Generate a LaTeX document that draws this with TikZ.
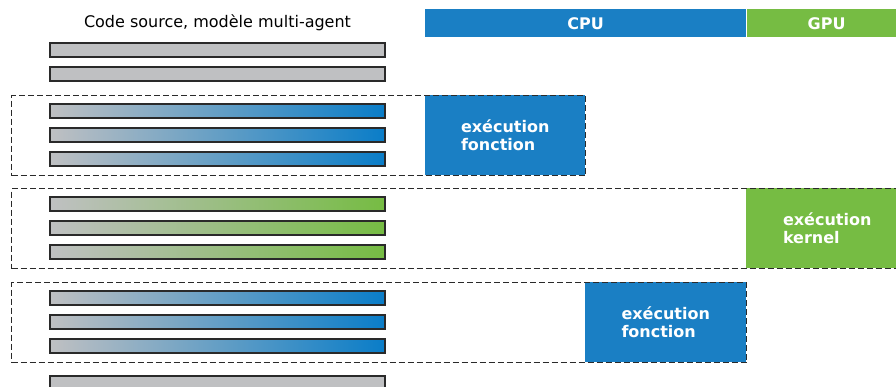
\documentclass[tikz,border=0pt]{standalone}
\usepackage{fontspec}
\setmainfont{DejaVu Sans}
\usetikzlibrary{positioning}
\definecolor{cpublue}{HTML}{1A7FC4}
\definecolor{barblue}{HTML}{0A7DC8}
\definecolor{gpugreen}{HTML}{76BC43}
\definecolor{bargray}{HTML}{BFC0C2}
\definecolor{edgegray}{HTML}{2A2A2A}
\tikzset{
	bar/.style={draw=edgegray, line width=1.3pt, fill=bargray, minimum width=335pt, minimum height=14pt, inner sep=0pt, outer sep=0pt},
	cpubar/.style={bar, left color=bargray, right color=barblue},
	gpubar/.style={bar, left color=bargray, right color=gpugreen},
	phase/.style={draw=edgegray, line width=1.2pt, dash pattern=on 6pt off 3pt, anchor=north west, minimum height=80pt, inner sep=0pt},
	cpubox/.style={fill=cpublue, text=white, font=\bfseries\fontsize{16}{18.5}\selectfont, align=left, anchor=north west, minimum height=80pt, inner sep=0pt},
	gpubox/.style={cpubox, fill=gpugreen},
	header/.style={text=white, font=\bfseries\fontsize{16}{19}\selectfont, minimum height=28pt, inner sep=0pt, anchor=north west}
}
\begin{document}
\begin{tikzpicture}[x=1pt, y=-1pt, node distance=10pt]
	\useasboundingbox (0,0) rectangle (896,387);
	% en-tete
	\node[font=\fontsize{16}{19}\selectfont] (title) at (217.5,23) {Code source, modèle multi-agent};
	\node[header, fill=cpublue, minimum width=321pt] (cpu) at (425,9) {CPU};
	\node[header, fill=gpugreen, minimum width=160pt, right=0pt of cpu] (gpu) {GPU};

	\node[bar] (s1) at (217.5,50) {};
	\node[bar, below=of s1] (s2) {};

	% fonction CPU
	\node[cpubox, minimum width=160pt] (f1) at (425,95) {exécution\\fonction};
	\node[phase, minimum width=574pt] (p1) at (11,95) {};
	\node[cpubar] (c1) at (217.5,111) {};
	\node[cpubar, below=of c1] (c2) {};
	\node[cpubar, below=of c2] (c3) {};

	% kernel GPU
	\node[gpubox, minimum width=162pt] (k1) at (746,188) {exécution\\kernel};
	\node[phase, minimum width=890pt] (p2) at (11,188) {};
	\node[gpubar] (g1) at (217.5,204) {};
	\node[gpubar, below=of g1] (g2) {};
	\node[gpubar, below=of g2] (g3) {};

	% fonction CPU
	\node[cpubox, minimum width=161pt] (f2) at (585,282) {exécution\\fonction};
	\node[phase, minimum width=735pt] (p3) at (11,282) {};
	\node[cpubar] (c4) at (217.5,298) {};
	\node[cpubar, below=of c4] (c5) {};
	\node[cpubar, below=of c5] (c6) {};

	\node[bar] (s3) at (217.5,383) {};
\end{tikzpicture}
\end{document}
